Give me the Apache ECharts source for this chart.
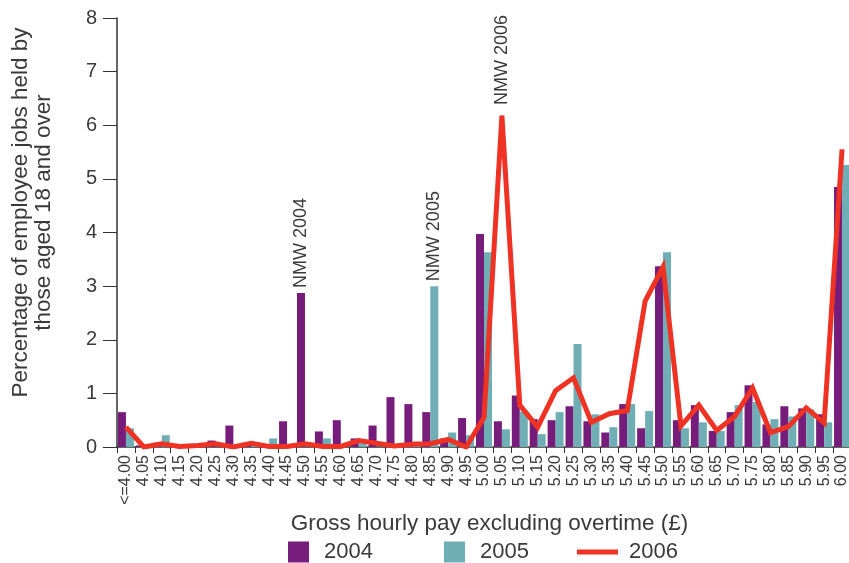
<!DOCTYPE html>
<html><head><meta charset="utf-8">
<script src="https://cdn.jsdelivr.net/npm/echarts@6/dist/echarts.min.js"></script>
<style>html,body{margin:0;padding:0;background:#fff}#c{width:849px;height:563px}</style>
</head><body><div id="c"></div>
<script>
var categories = ['<=4.00','4.05','4.10','4.15','4.20','4.25','4.30','4.35','4.40','4.45','4.50','4.55','4.60','4.65','4.70','4.75','4.80','4.85','4.90','4.95','5.00','5.05','5.10','5.15','5.20','5.25','5.30','5.35','5.40','5.45','5.50','5.55','5.60','5.65','5.70','5.75','5.80','5.85','5.90','5.95','6.00'];
var values2004 = [0.65,0.03,0.08,0,0,0.12,0.4,0.08,0,0.48,2.87,0.29,0.5,0.16,0.4,0.93,0.8,0.65,0.16,0.54,3.97,0.48,0.96,0.52,0.5,0.76,0.48,0.27,0.8,0.35,3.37,0.5,0.78,0.3,0.65,1.15,0.42,0.76,0.72,0.61,4.85];
var values2005 = [0.35,0,0.22,0,0,0,0,0.04,0.16,0,0,0.16,0,0.07,0,0,0.1,3.0,0.27,0.22,3.63,0.33,0.66,0.24,0.65,1.92,0.61,0.37,0.8,0.67,3.63,0.35,0.46,0.3,0.78,0.84,0.52,0.57,0.7,0.46,5.26];
var values2006 = [0.37,0,0.06,0.01,0.03,0.06,0,0.07,0.01,0.01,0.06,0.01,0.01,0.12,0.07,0.02,0.05,0.06,0.14,0,0.55,6.18,0.78,0.37,1.05,1.29,0.46,0.62,0.68,2.72,3.36,0.39,0.78,0.31,0.57,1.1,0.27,0.38,0.73,0.45,5.55];
var yTicks = [0,1,2,3,4,5,6,7,8];
var annotations = [
  {series: '2004', index: 10, text: 'NMW 2004'},
  {series: '2005', index: 17, text: 'NMW 2005'},
  {series: '2006', index: 21, text: 'NMW 2006'}
];

var FONT = 'Liberation Sans';
var TXT = '#3a3a3a';
function withLabels(name, arr, dist) {
  return arr.map(function (v, i) {
    var a = annotations.filter(function (x) { return x.series === name && x.index === i; })[0];
    if (!a) return v;
    return {value: v, label: {show: true, position: 'top', rotate: 90, align: 'left', verticalAlign: 'middle',
      distance: dist, formatter: a.text, fontFamily: FONT, fontSize: 18, color: TXT}};
  });
}

var chart = echarts.init(document.getElementById('c'), null, {renderer: 'canvas'});
chart.setOption({
  animation: false,
  textStyle: {fontFamily: FONT, color: TXT},
  grid: {left: 117, top: 18, width: 734, bottom: 116, containLabel: false, outerBoundsMode: 'none'},
  legend: [
    {data: ['2004'], left: 288, top: 541, padding: 0, itemWidth: 21, itemHeight: 21, icon: 'rect',
     textStyle: {fontFamily: FONT, fontSize: 22, color: TXT, padding: [0, 0, 0, 10]}},
    {data: ['2005'], left: 444, top: 541, padding: 0, itemWidth: 21, itemHeight: 21, icon: 'rect',
     textStyle: {fontFamily: FONT, fontSize: 22, color: TXT, padding: [0, 0, 0, 10]}},
    {data: ['2006'], left: 577, top: 541, padding: 0, itemWidth: 41, itemHeight: 21, icon: 'path://M0,8 L41,8 L41,13 L0,13 Z',
     textStyle: {fontFamily: FONT, fontSize: 22, color: TXT, padding: [0, 0, 0, 6]}}
  ],
  xAxis: {
    type: 'category', data: categories,
    name: 'Gross hourly pay excluding overtime (£)', nameLocation: 'middle', nameGap: 57,
    nameTextStyle: {fontFamily: FONT, fontSize: 22.5, color: TXT, padding: [0, 0, 0, 11]},
    axisLine: {lineStyle: {color: '#333', width: 1.5}},
    axisTick: {show: true, length: 6, interval: 0, lineStyle: {color: '#333'}},
    axisLabel: {interval: 0, rotate: 90, margin: 8, fontFamily: FONT, fontSize: 16, color: TXT}
  },
  yAxis: {
    type: 'value', min: 0, max: 8, interval: 1,
    name: 'Percentage of employee jobs held by\nthose aged 18 and over', nameLocation: 'middle', nameGap: 62,
    nameTextStyle: {fontFamily: FONT, fontSize: 22.5, color: TXT, lineHeight: 23, padding: [0, 0, 0, 40]},
    axisLine: {show: true, lineStyle: {color: '#333', width: 1.5}},
    axisTick: {show: true, length: 14, lineStyle: {color: '#333'}},
    splitLine: {show: false},
    axisLabel: {margin: 20, fontFamily: FONT, fontSize: 20, color: TXT,
      formatter: function (v) { return yTicks.indexOf(v) >= 0 ? String(v) : ''; }}
  },
  series: [
    {name: '2004', type: 'bar', data: withLabels('2004', values2004, 5), barWidth: 8, barGap: '0%',
     itemStyle: {color: '#761C7A'}},
    {name: '2005', type: 'bar', data: withLabels('2005', values2005, 5), barWidth: 8, barGap: '0%',
     itemStyle: {color: '#70AEB5'}},
    {name: '2006', type: 'line', data: withLabels('2006', values2006, 10), symbol: 'circle', symbolSize: 1, showSymbol: true,
     itemStyle: {color: '#EE3224'},
     lineStyle: {color: '#EE3224', width: 5, join: 'miter', miterLimit: 10}, z: 5}
  ]
});
</script></body></html>
